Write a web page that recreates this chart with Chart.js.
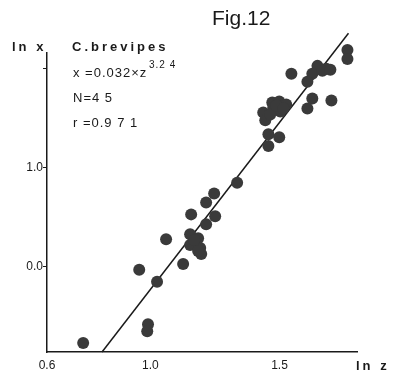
<!DOCTYPE html>
<html>
<head>
<meta charset="utf-8">
<script src="https://cdn.jsdelivr.net/npm/chart.js@4"></script>
<style>
	html, body { margin: 0; padding: 0; background: #fff; }
</style>
</head>
<body>
<canvas id="fig" width="395" height="376"></canvas>
<script>
'use strict';

// measured points, ln z / ln x
var lnZ = [0.740, 0.991, 0.988, 0.957, 1.026, 1.127, 1.061, 1.154, 1.154, 1.185,
	1.193, 1.197, 1.216, 1.158, 1.216, 1.247, 1.251, 1.336, 1.763, 1.763,
	1.546, 1.647, 1.627, 1.608, 1.681, 1.666, 1.627, 1.701, 1.608, 1.437,
	1.472, 1.499, 1.526, 1.445, 1.476, 1.503, 1.464, 1.457, 1.499, 1.457,
	1.170, 1.488, 1.515, 1.697, 1.185];
var lnX = [-0.77, -0.58, -0.65, -0.03, -0.15, 0.03, 0.28, 0.33, 0.22, 0.29,
	0.19, 0.13, 0.43, 0.53, 0.65, 0.74, 0.51, 0.85, 2.19, 2.10,
	1.95, 2.03, 1.95, 1.87, 2.00, 1.98, 1.70, 1.68, 1.60, 1.56,
	1.66, 1.67, 1.64, 1.48, 1.61, 1.57, 1.54, 1.34, 1.31, 1.22,
	0.27, 1.63, 1.60, 1.99, 0.16];

// regression line ends
var fitZ = [0.813, 1.767];
var fitX = [-0.86, 2.36];

var xTicks = [0.6, 1.0, 1.5];
var yTicks = [0.0, 1.0, 2.0];
var yTickLabels = ['0.0', '1.0', ''];

var FONT = '"Liberation Sans", Arial, sans-serif';
var INK = '#1a1a1a';

var points = lnZ.map(function(z, i){ return { x : z, y : lnX[i] }; });
var fit = fitZ.map(function(z, i){ return { x : z, y : fitX[i] }; });

//free text around the plot
var textPlugin = {
	id : 'figText',
	afterDraw : function(chart){
		var ctx = chart.ctx;
		ctx.save();
		ctx.fillStyle = INK;
		ctx.textBaseline = 'middle';
		ctx.textAlign = 'left';

		ctx.font = '300 21px ' + FONT;
		ctx.letterSpacing = '0px';
		ctx.fillText('Fig.12', 212, 19);

		ctx.font = 'bold 13px ' + FONT;
		ctx.letterSpacing = '3px';
		ctx.fillText('ln x', 12, 47);
		ctx.fillText('C.brevipes', 72, 47);
		ctx.fillText('ln z', 356, 366);

		ctx.font = '13px ' + FONT;
		ctx.letterSpacing = '1px';
		ctx.fillText('x =0.032\u00d7z', 73, 73);
		ctx.font = '10px ' + FONT;
		ctx.fillText('3.2 4', 149, 65);
		ctx.font = '13px ' + FONT;
		ctx.fillText('N=4 5', 73, 98);
		ctx.fillText('r =0.9 7 1', 73, 123);
		ctx.restore();
	}
};

new Chart(document.getElementById('fig').getContext('2d'), {
	data : {
		datasets : [{
			type : 'scatter',
			data : points,
			pointRadius : 6,
			pointHoverRadius : 6,
			pointBackgroundColor : '#3a3a3a',
			pointBorderWidth : 0,
			clip : false
		}, {
			type : 'line',
			data : fit,
			showLine : true,
			pointRadius : 0,
			borderColor : INK,
			borderWidth : 1.5,
			clip : false
		}]
	},
	options : {
		responsive : false,
		animation : false,
		devicePixelRatio : 1,
		layout : { padding : { left : 0, right : 38, top : 53, bottom : 0 } },
		plugins : { legend : { display : false }, tooltip : { enabled : false } },
		scales : {
			x : {
				type : 'linear',
				min : 0.6, max : 1.8,
				afterBuildTicks : function(scale){
					scale.ticks = xTicks.map(function(v){ return { value : v }; });
				},
				afterFit : function(scale){ scale.height = 24; },
				border : { display : true, color : INK, width : 1.5 },
				grid : { drawOnChartArea : false, drawTicks : false },
				ticks : {
					padding : 6,
					color : INK,
					font : { family : FONT, size : 12 },
					callback : function(v){ return v.toFixed(1); }
				}
			},
			y : {
				type : 'linear',
				min : -0.86, max : 2.16,
				afterBuildTicks : function(scale){
					scale.ticks = yTicks.map(function(v){ return { value : v }; });
				},
				afterFit : function(scale){ scale.width = 47; },
				border : { display : true, color : INK, width : 1.5 },
				grid : { drawOnChartArea : false, drawTicks : true, tickLength : 4, color : INK, lineWidth : 1 },
				ticks : {
					padding : 0,
					color : INK,
					font : { family : FONT, size : 12 },
					callback : function(v){ return yTickLabels[yTicks.indexOf(v)]; }
				}
			}
		}
	},
	plugins : [textPlugin]
});
</script>
</body>
</html>
